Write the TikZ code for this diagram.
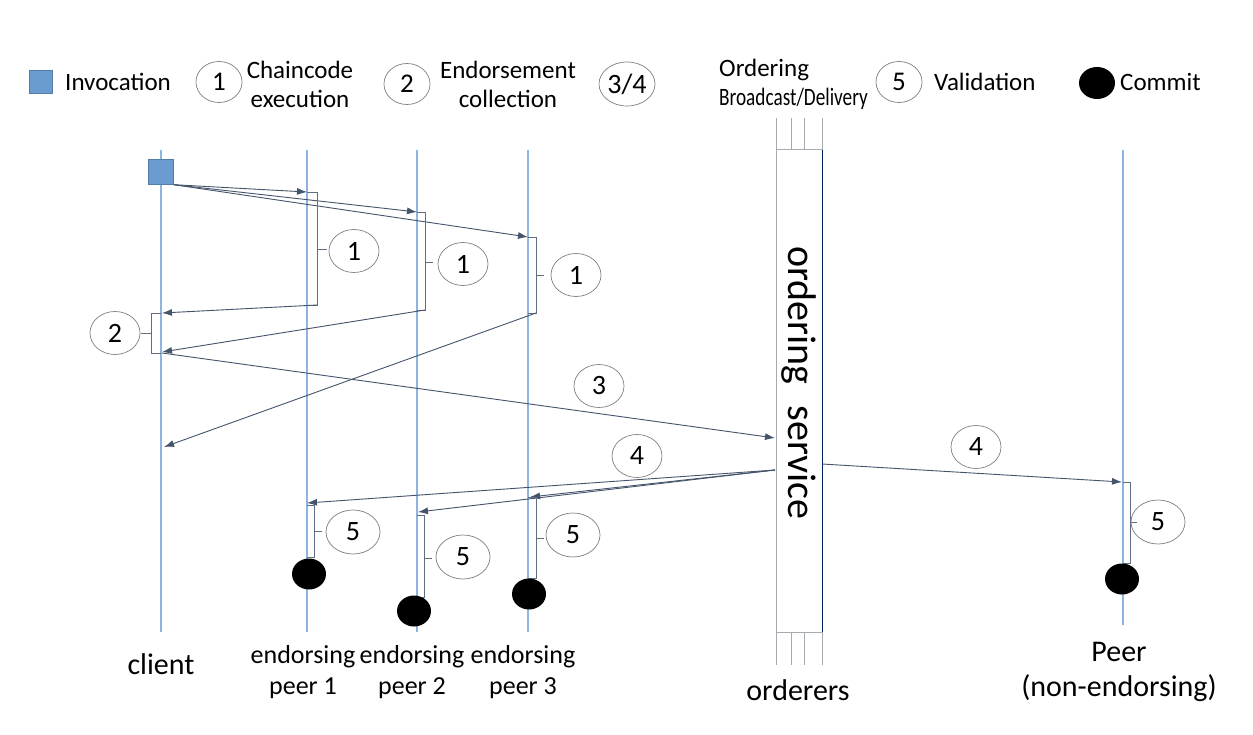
\documentclass[tikz,border=0pt]{standalone}
\usepackage{fontspec}
\setmainfont{Carlito}
\usetikzlibrary{arrows.meta,shapes.geometric}

\definecolor{lifeblue}{HTML}{8EB4E3}
\definecolor{msgline}{HTML}{44546A}
\definecolor{invblue}{HTML}{6A9BD1}
\definecolor{boxnavy}{HTML}{002060}
\definecolor{boxgray}{HTML}{A5A9B0}

\tikzset{
    life/.style={draw=lifeblue, line width=1.2pt},
    msg/.style={draw=msgline, line width=0.9pt, -{Latex[length=10pt,width=7pt]}},
    brace/.style={draw=msgline!85, line width=0.9pt},
    num/.style={draw=gray, ellipse, line width=0.7pt, minimum width=50pt, minimum height=43pt,
        inner sep=0pt, font=\fontsize{28}{30}\selectfont},
    lnum/.style={num, minimum width=46pt, minimum height=41pt, font=\fontsize{27}{29}\selectfont},
    commit/.style={ellipse, fill=black, minimum width=34pt, minimum height=31pt, inner sep=0pt},
    lbl/.style={font=\fontsize{25}{29}\selectfont, align=center, inner sep=0pt},
    actor/.style={font=\fontsize{30}{35}\selectfont, align=center, inner sep=0pt},
}

\begin{document}
\begin{tikzpicture}[x=1pt, y=-1pt]
    \useasboundingbox [fill=white] (0,0) rectangle (1253,735);

    % legend
    \node [fill=invblue, draw=invblue!80!black, minimum size=23pt, inner sep=0pt] (leginv) at (41,82) {};
    \node [lbl, anchor=west] at (65,82) {Invocation};
    \node [lnum] (leg1) at (219,82) {1};
    \node [lbl] at (300,84) {Chaincode\\execution};
    \node [lnum] (leg2) at (407,84) {2};
    \node [lbl] at (508,84) {Endorsement\\collection};
    \node [lnum, minimum width=56pt, minimum height=44pt, font=\fontsize{28}{30}\selectfont] (leg34) at (627,84) {3/4};
    \node [lbl, align=left, anchor=west] at (719,84) {Ordering\\\scalebox{0.77}[1]{Broadcast/Delivery}};
    \node [lnum] (leg5) at (899,82) {5};
    \node [lbl, anchor=west] at (934,82) {Validation};
    \node [commit, minimum width=36pt, minimum height=32pt] (legcommit) at (1097,83) {};
    \node [lbl, anchor=west] at (1120,82) {Commit};

    % lifelines
    \foreach \x in {161,307,417,528} {
        \draw [life] (\x,150) -- (\x,632);
    }
    \draw [life] (1123,150) -- (1123,625);

    % ordering service
    \node [draw=boxgray, line width=1pt, minimum width=46pt, minimum height=482pt, inner sep=0pt] (ord) at (799,391) {};
    \draw [boxnavy, line width=1pt] (ord.north east) -- (ord.south east);
    \node [rotate=-90, font=\fontsize{40}{42}\selectfont, inner sep=0pt] (ordtext) at (799,383) {ordering\hspace{0.3em} service};
    \foreach \x in {776,791,804,822} {
        \draw [boxgray, line width=0.9pt] (\x,118) -- (\x,150);
        \draw [boxgray, line width=0.9pt] (\x,632) -- (\x,665);
    }

    % invocation and execution
    \node [fill=invblue, draw=invblue!80!black, minimum size=25pt, inner sep=0pt] (inv) at (161,172) {};
    \coordinate (p1in) at (307,192);
    \coordinate (p2in) at (417,212);
    \coordinate (p3in) at (528,237);
    \draw [msg] (inv.south east) -- (p1in);
    \draw [msg] (inv.south east) -- (p2in);
    \draw [msg] (inv.south east) -- (p3in);

    \draw [brace] (p1in) -- (317,192) -- (317,305) -- (307,305);
    \draw [brace] (317,249) -- (327,249);
    \node [num] (ex1) at (354,251) {1};
    \draw [brace] (p2in) -- (425,212) -- (425,310) -- (417,310);
    \draw [brace] (425,262) -- (433,262);
    \node [num] (ex2) at (463,264) {1};
    \draw [brace] (p3in) -- (536,237) -- (536,313) -- (528,313);
    \draw [brace] (536,275) -- (544,275);
    \node [num] (ex3) at (576,275) {1};

    % endorsements back to client
    \coordinate (p1out) at (317,305);
    \coordinate (p2out) at (425,310);
    \coordinate (p3out) at (536,313);
    \coordinate (e1) at (162,313);
    \coordinate (e2) at (162,352);
    \coordinate (e3) at (164,447);
    \draw [msg] (p1out) -- (e1);
    \draw [msg] (p2out) -- (e2);
    \draw [msg] (p3out) -- (e3);
    \draw [brace] (161,313) -- (151,313) -- (151,353) -- (161,353);
    \draw [brace] (151,333) -- (141,333);
    \node [num] (col) at (115,333) {2};

    % broadcast
    \coordinate (bc) at (162,353);
    \coordinate (ordin) at (775,438);
    \draw [msg] (bc) -- (ordin);
    \node [num] (bcast) at (599,386) {3};

    % delivery
    \coordinate (ordl) at (775,470);
    \coordinate (ordr) at (822,464);
    \coordinate (d1) at (307,503);
    \coordinate (d2) at (418,512);
    \coordinate (d3) at (530,497);
    \coordinate (d4) at (1122,482);
    \draw [msg] (ordl) -- (d1);
    \draw [msg] (ordl) -- (d2);
    \draw [msg] (ordl) -- (d3);
    \draw [msg] (ordr) -- (d4);
    \node [num] (dl) at (637,456) {4};
    \node [num] (dr) at (976,447) {4};

    % validation and commit
    \draw [brace] (307,505) -- (314,505) -- (314,557) -- (307,557);
    \draw [brace] (314,531) -- (322,531);
    \node [num, minimum width=54pt, minimum height=44pt] (v1) at (353,532) {5};
    \node [commit] (c1) at (309,574) {};
    \draw [brace] (417,515) -- (424,515) -- (424,597) -- (417,597);
    \draw [brace] (424,558) -- (432,558);
    \node [num, minimum width=54pt, minimum height=44pt] (v2) at (463,557) {5};
    \node [commit] (c2) at (414,611) {};
    \draw [brace] (528,497) -- (536,497) -- (536,578) -- (528,578);
    \draw [brace] (536,538) -- (544,538);
    \node [num, minimum width=54pt, minimum height=44pt] (v3) at (573,535) {5};
    \node [commit] (c3) at (529,594) {};
    \draw [brace] (1123,482) -- (1130,482) -- (1130,563) -- (1123,563);
    \draw [brace] (1130,522) -- (1137,522);
    \node [num, minimum width=54pt, minimum height=44pt] (v4) at (1158,522) {5};
    \node [commit] (c4) at (1122,579) {};

    % actors
    \node [actor] (client) at (161,664) {client};
    \node [lbl, font=\fontsize{26}{31}\selectfont] (peer1) at (303,672) {endorsing\\peer 1};
    \node [lbl, font=\fontsize{26}{31}\selectfont] (peer2) at (412,672) {endorsing\\peer 2};
    \node [lbl, font=\fontsize{26}{31}\selectfont] (peer3) at (523,672) {endorsing\\peer 3};
    \node [actor] (orderers) at (798,690) {orderers};
    \node [actor, font=\fontsize{30}{35}\selectfont] (peer) at (1119,672) {Peer\\(non-endorsing)};
\end{tikzpicture}
\end{document}
